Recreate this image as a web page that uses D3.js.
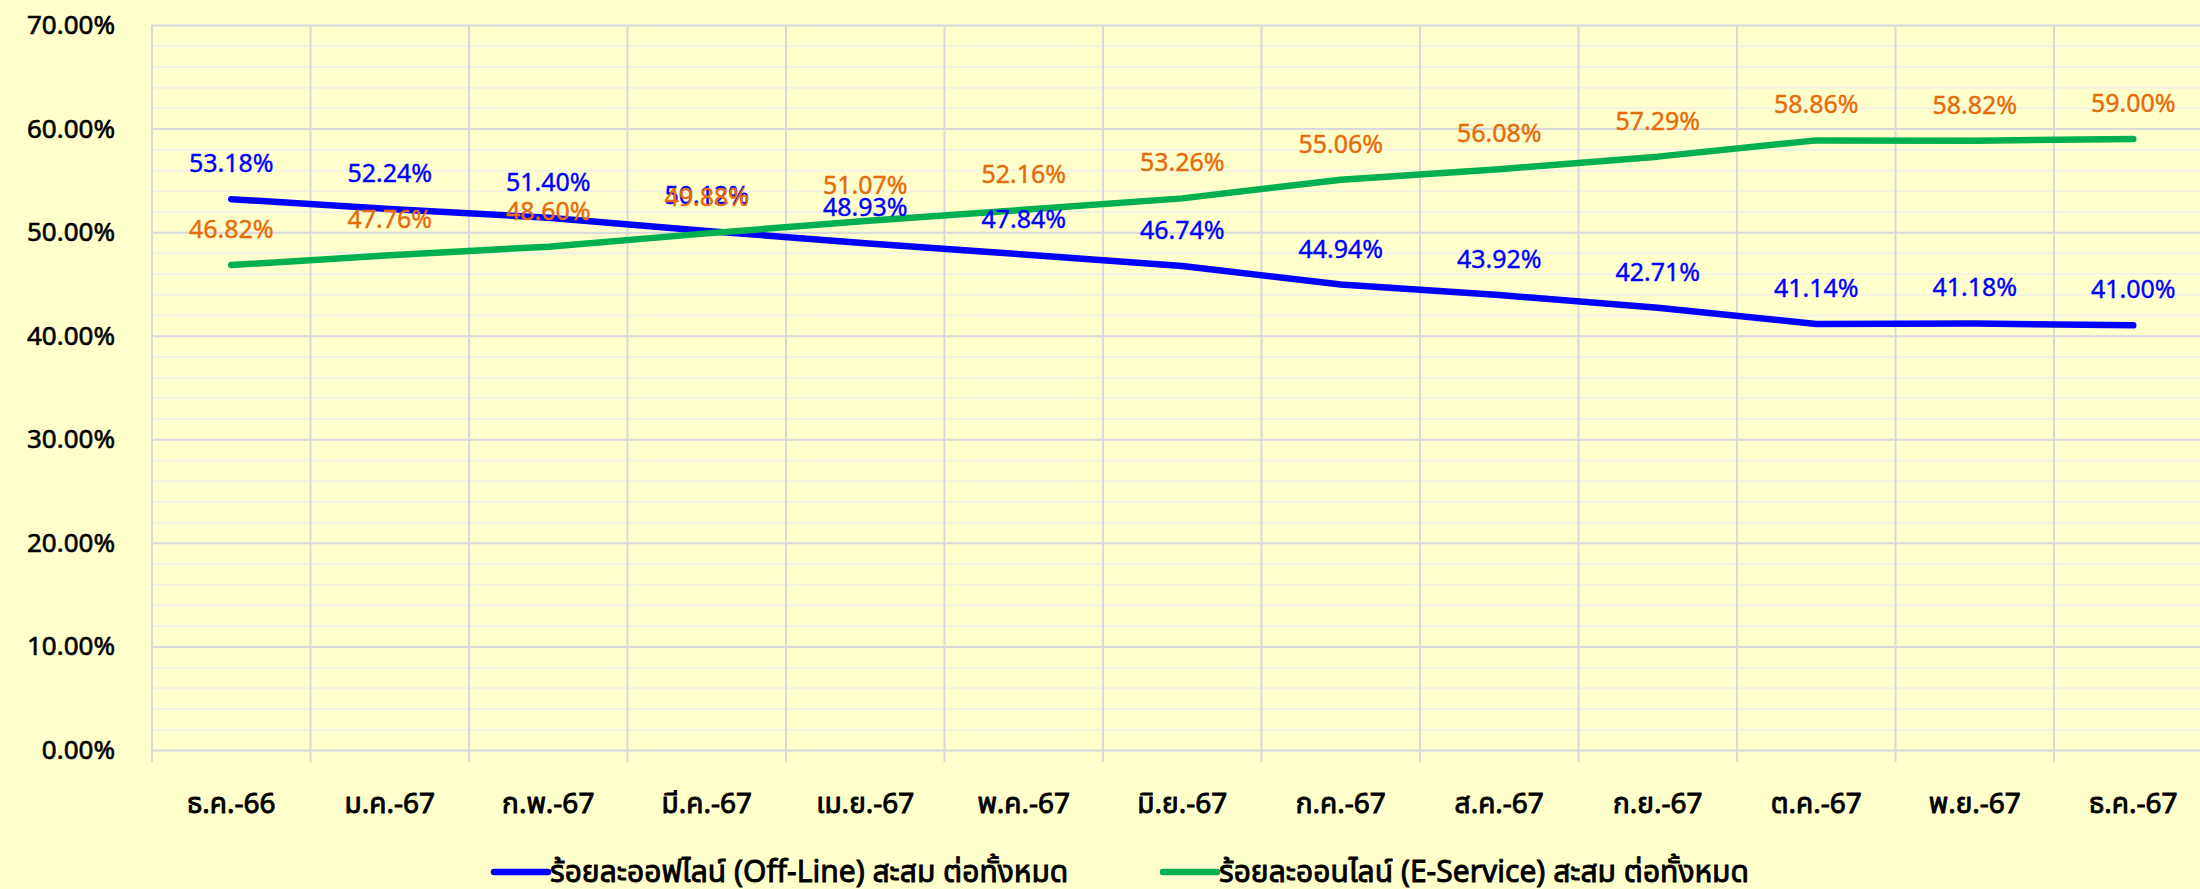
<!DOCTYPE html>
<html>
<head>
<meta charset="utf-8">
<script src="https://cdn.jsdelivr.net/npm/d3@7"></script>
<style>
  html, body { margin: 0; padding: 0; background: #FFFFCC; }
  svg { display: block; }
  text { font-family: "Noto Sans Thai", "Leelawadee UI", Tahoma, "DejaVu Sans", "Noto Sans", sans-serif; }
</style>
</head>
<body>
<script>
// months (Thai short month + Buddhist year)
var months = ["ธ.ค.-66", "ม.ค.-67", "ก.พ.-67", "มี.ค.-67", "เม.ย.-67", "พ.ค.-67",
  "มิ.ย.-67", "ก.ค.-67", "ส.ค.-67", "ก.ย.-67", "ต.ค.-67", "พ.ย.-67", "ธ.ค.-67"];

// percent offline, cumulative
var offline = [53.18, 52.24, 51.40, 50.12, 48.93, 47.84, 46.74, 44.94, 43.92, 42.71, 41.14, 41.18, 41.00];
// percent online (e-service), cumulative
var online = [46.82, 47.76, 48.60, 49.88, 51.07, 52.16, 53.26, 55.06, 56.08, 57.29, 58.86, 58.82, 59.00];

var seriesNames = ["ร้อยละออฟไลน์ (Off-Line) สะสม ต่อทั้งหมด", "ร้อยละออนไลน์ (E-Service) สะสม ต่อทั้งหมด"];
var yTicks = [0, 10, 20, 30, 40, 50, 60, 70];

var W = 2200, H = 889;
var plotLeft = 152, band = 158.5, plotTop = 25, plotBottom = 750;

var svg = d3.select("body").append("svg")
    .attr("width", W)
    .attr("height", H);

svg.append("rect").attr("width", W).attr("height", H).attr("fill", "#FFFFCC");

var x = d3.scaleBand().domain(months).range([plotLeft, plotLeft + band * months.length]).padding(0);
var y = d3.scaleLinear().domain([0, 70]).range([plotBottom, plotTop]);
var plotW = band * months.length;

// minor gridlines every 2%
svg.append("g")
    .attr("transform", "translate(" + plotLeft + ",0)")
    .call(d3.axisLeft(y).tickValues(d3.range(0, 71, 2)).tickSize(-plotW).tickFormat(""))
    .call(function(g) {
      g.select(".domain").remove();
      g.selectAll("line").attr("stroke", "#F2F2E4").attr("stroke-width", 2);
    });

// major gridlines
svg.append("g")
    .attr("transform", "translate(" + plotLeft + ",0)")
    .call(d3.axisLeft(y).tickValues(yTicks).tickSize(-plotW).tickFormat(""))
    .call(function(g) {
      g.select(".domain").remove();
      g.selectAll("line").attr("stroke", "#D9D9D9").attr("stroke-width", 2);
    });

// vertical gridlines at category boundaries, running past the axis as ticks
var edges = months.map(function(m) { return x(m); }).concat([x.range()[1]]);
svg.append("g").selectAll("line")
    .data(edges)
    .join("line")
    .attr("x1", function(d) { return d; })
    .attr("x2", function(d) { return d; })
    .attr("y1", y(70))
    .attr("y2", y(0) + 12)
    .attr("stroke", "#D9D9D9")
    .attr("stroke-width", 2);

// y labels
svg.append("g").selectAll("text")
    .data(yTicks)
    .join("text")
    .attr("x", 115)
    .attr("y", function(d) { return y(d) + 9; })
    .attr("text-anchor", "end")
    .attr("font-size", 26)
    .attr("fill", "#000")
    .attr("stroke", "#000")
    .attr("stroke-width", 0.6)
    .text(function(d) { return d.toFixed(2) + "%"; });

// x labels
svg.append("g").selectAll("text")
    .data(months)
    .join("text")
    .attr("x", function(d) { return x(d) + x.bandwidth() / 2; })
    .attr("y", 813)
    .attr("text-anchor", "middle")
    .attr("font-size", 28)
    .attr("fill", "#000")
    .attr("stroke", "#000")
    .attr("stroke-width", 0.9)
    .text(function(d) { return d; });

var line = d3.line()
    .x(function(d, i) { return x(months[i]) + x.bandwidth() / 2; })
    .y(function(d) { return y(d); });

svg.append("path")
    .datum(offline)
    .attr("d", line)
    .attr("fill", "none")
    .attr("stroke", "#0000FF")
    .attr("stroke-width", 6.5)
    .attr("stroke-linecap", "round")
    .attr("stroke-linejoin", "round");

svg.append("path")
    .datum(online)
    .attr("d", line)
    .attr("fill", "none")
    .attr("stroke", "#00B050")
    .attr("stroke-width", 6.5)
    .attr("stroke-linecap", "round")
    .attr("stroke-linejoin", "round");

// data labels
function labels(values, color) {
  svg.append("g").selectAll("text")
      .data(values)
      .join("text")
      .attr("x", function(d, i) { return x(months[i]) + x.bandwidth() / 2; })
      .attr("y", function(d) { return y(d) - 36 + 9; })
      .attr("text-anchor", "middle")
      .attr("font-size", 25)
      .attr("fill", color)
      .attr("stroke", color)
      .attr("stroke-width", 0.4)
      .text(function(d) { return d.toFixed(2) + "%"; });
}
labels(offline, "#0000FF");
labels(online, "#E46C0A");

// legend
var legend = [
  {name: seriesNames[0], color: "#0000FF", x: 494},
  {name: seriesNames[1], color: "#00B050", x: 1163}
];
var lg = svg.append("g").selectAll("g")
    .data(legend)
    .join("g")
    .attr("transform", function(d) { return "translate(" + d.x + ",872)"; });
lg.append("line")
    .attr("x1", 0).attr("x2", 54)
    .attr("stroke", function(d) { return d.color; })
    .attr("stroke-width", 6.5)
    .attr("stroke-linecap", "round");
lg.append("text")
    .attr("x", 56)
    .attr("y", 10)
    .attr("font-size", 30)
    .attr("fill", "#000")
    .attr("stroke", "#000")
    .attr("stroke-width", 0.9)
    .text(function(d) { return d.name; });
</script>
</body>
</html>
